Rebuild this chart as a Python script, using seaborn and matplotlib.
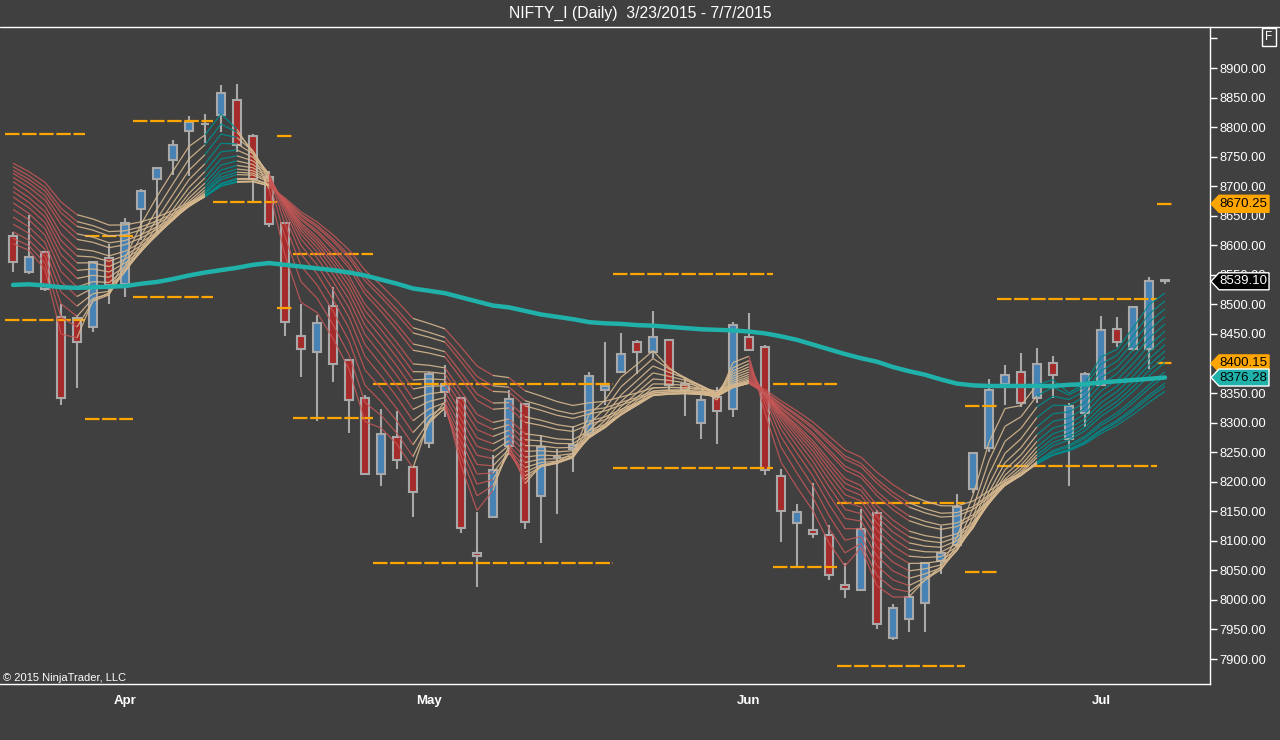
import numpy as np
import pandas as pd
import matplotlib
matplotlib.use("Agg")
import matplotlib.pyplot as plt
import seaborn as sns
from matplotlib.collections import LineCollection
from matplotlib.lines import Line2D
from matplotlib.patches import Polygon

W, H = 1280, 740
BG = "#404040"

# daily bars 3/23/2015 - 7/7/2015
opens = [8616, 8554, 8589, 8479, 8477, 8461, 8579, 8535, 8661, 8713,
         8745, 8793, 8806, 8820, 8846, 8785, 8715, 8638, 8447, 8420,
         8497, 8406, 8342, 8213, 8276, 8225, 8266, 8352, 8342, 8079,
         8141, 8261, 8331, 8175, 8241, 8255, 8279, 8355, 8386, 8437,
         8420, 8440, 8365, 8299, 8343, 8323, 8445, 8428, 8210, 8130,
         8119, 8110, 8025, 8017, 8147, 7936, 7968, 7995, 8066, 8093,
         8187, 8257, 8365, 8386, 8341, 8401, 8272, 8316, 8364, 8459,
         8424, 8424, 8541]
highs = [8622, 8652, 8590, 8500, 8482, 8572, 8603, 8646, 8696, 8733,
         8778, 8818, 8823, 8871, 8873, 8788, 8725, 8640, 8500, 8482,
         8529, 8408, 8347, 8323, 8320, 8226, 8386, 8398, 8343, 8148,
         8245, 8355, 8332, 8279, 8255, 8294, 8386, 8437, 8451, 8440,
         8489, 8441, 8378, 8347, 8360, 8471, 8485, 8432, 8221, 8163,
         8198, 8127, 8062, 8153, 8152, 7993, 8063, 8064, 8125, 8179,
         8249, 8374, 8398, 8417, 8427, 8413, 8333, 8386, 8480, 8478,
         8497, 8547, 8543]
lows = [8555, 8551, 8523, 8330, 8358, 8454, 8500, 8513, 8609, 8620,
        8719, 8717, 8773, 8792, 8758, 8674, 8631, 8447, 8377, 8302,
        8368, 8282, 8212, 8193, 8221, 8141, 8257, 8310, 8113, 8022,
        8140, 8245, 8120, 8097, 8145, 8217, 8276, 8330, 8386, 8383,
        8409, 8355, 8311, 8273, 8263, 8309, 8422, 8212, 8098, 8055,
        8104, 8034, 8003, 8016, 7950, 7932, 7945, 7946, 8044, 8090,
        8181, 8251, 8330, 8326, 8334, 8341, 8192, 8293, 8362, 8428,
        8422, 8390, 8535]
closes = [8571, 8580, 8526, 8341, 8437, 8571, 8532, 8637, 8692, 8730,
          8769, 8809, 8806, 8858, 8770, 8713, 8636, 8471, 8424, 8469,
          8399, 8338, 8213, 8280, 8236, 8183, 8383, 8366, 8121, 8075,
          8219, 8340, 8131, 8258, 8241, 8262, 8379, 8362, 8416, 8420,
          8445, 8364, 8355, 8339, 8320, 8465, 8423, 8220, 8150, 8148,
          8111, 8042, 8018, 8120, 7959, 7986, 8005, 8063, 8079, 8157,
          8248, 8356, 8381, 8334, 8399, 8381, 8328, 8382, 8456, 8437,
          8496, 8539, 8539.1]

# slow moving average (thick teal line)
trend_ma = [8533, 8534, 8532, 8529, 8528, 8529, 8530, 8531, 8535, 8538,
            8543, 8549, 8554, 8558, 8562, 8567, 8570, 8567, 8564, 8561,
            8558, 8554, 8549, 8542, 8535, 8527, 8523, 8519, 8512, 8505,
            8498, 8495, 8489, 8483, 8479, 8475, 8470, 8468, 8467, 8465,
            8464, 8462, 8460, 8458, 8457, 8456, 8454, 8451, 8446, 8440,
            8432, 8424, 8416, 8409, 8403, 8394, 8387, 8381, 8373, 8366,
            8363, 8362, 8362, 8362, 8362, 8362, 8364, 8365, 8368, 8370,
            8372, 8374, 8376.28]

# moving-average ribbon: periods and their values at the first bar
ribbon_periods = [3, 4, 5, 6, 7, 8, 9, 10, 11, 12, 13, 15, 16, 18, 19, 21]
ribbon_seed = [8603, 8612, 8623, 8636, 8648, 8661, 8672, 8682,
               8691, 8699, 8708, 8715, 8722, 8727, 8733, 8739]
# ribbon colour state per bar: r = falling, n = neutral, t = rising
ribbon_state = list("x" + "rrrr" + "nnnnnnnn" + "tt" + "nn" + "rrrrrrrrr"
                    + "nn" + "rrr" + "n" + "r" + "nnnnnnnnnnnnnn"
                    + "rrrrrrrrrr" + "nnnnnnnn" + "tttttttt")

# orange dashed levels (first bar, last bar, price)
level_start = [0, 0, 5, 5, 8, 8, 13, 17, 17, 18, 18, 23, 23, 38, 38,
               48, 48, 52, 52, 60, 60, 62, 62, 72, 72]
level_end = [4, 4, 7, 7, 12, 12, 16, 17, 17, 22, 22, 37, 37, 47, 47,
             51, 51, 59, 59, 61, 61, 71, 71, 72, 72]
level_value = [8788, 8474, 8616, 8306, 8810, 8513, 8673, 8785, 8494,
               8585, 8308, 8365, 8062, 8551, 8223, 8365, 8056, 8164,
               7888, 8328, 8047, 8509, 8227, 8670.25, 8400.15]

month_ticks = [7, 26, 46, 68]
month_labels = ["Apr", "May", "Jun", "Jul"]

tag_values = [8670.25, 8539.10, 8400.15, 8376.28]
tag_fill = ["#FFA500", "#000000", "#FFA500", "#20B2AA"]
tag_text = ["black", "white", "black", "black"]
tag_edge = ["#FFA500", "white", "#FFA500", "white"]

sns.set_theme(style="dark")
plt.rcParams["font.family"] = ["Liberation Sans", "DejaVu Sans"]

n = len(closes)
df = pd.DataFrame({"bar": np.arange(n), "open": opens, "high": highs,
                   "low": lows, "close": closes, "ma": trend_ma})

fig = plt.figure(figsize=(W / 100, H / 100), dpi=100, facecolor=BG)
ax = fig.add_axes([0, 56 / H, 1210 / W, 657 / H], facecolor=BG)

# candles
o = df["open"].to_numpy()
c = df["close"].to_numpy()
face = np.where(c - o > 2, "#4682B4", np.where(o - c > 2, "#A52A2A", "#A9A9A9"))
ax.vlines(df["bar"], df["low"], df["high"], color="#A9A9A9", lw=1.5, zorder=2)
ax.bar(df["bar"], np.abs(c - o), bottom=np.minimum(o, c), width=0.5,
       color=face, edgecolor="#A9A9A9", linewidth=1.5, zorder=3)

# levels
ax.hlines(level_value, np.array(level_start) - 0.5, np.array(level_end) + 0.5,
          colors="#FFA500", linestyles=[(0, (6.5, 1.2))], lw=1.6, zorder=3.5)

# ribbon
ema = np.zeros((len(ribbon_periods), n))
for k, (p, s) in enumerate(zip(ribbon_periods, ribbon_seed)):
    a = 2.0 / (p + 1)
    ema[k, 0] = s
    for t in range(1, n):
        ema[k, t] = ema[k, t - 1] + a * (closes[t] - ema[k, t - 1])

state_color = {"r": (0.78, 0.34, 0.34, 0.85),
               "n": (0.84, 0.72, 0.56, 0.9),
               "t": (0.0, 0.55, 0.55, 0.9)}
segs, cols = [], []
for k in range(len(ribbon_periods)):
    for t in range(1, n):
        segs.append([(t - 1, ema[k, t - 1]), (t, ema[k, t])])
        cols.append(state_color[ribbon_state[t]])
ax.add_collection(LineCollection(segs, colors=cols, linewidths=0.9, zorder=4))

sns.lineplot(data=df, x="bar", y="ma", color="#20B2AA", lw=3.2, ax=ax, zorder=5)

ax.set_xlim(-0.8125, 74.8125)
ax.set_ylim(7857.7, 8969.4)
ax.set_xlabel("")
ax.set_ylabel("")
ax.grid(False)

ax.yaxis.tick_right()
yt = np.arange(7900, 8951, 50)
ax.set_yticks(yt)
ax.set_yticklabels([f"{v:.2f}" if v < 8950 else "" for v in yt])
ax.set_xticks(month_ticks)
ax.set_xticklabels(month_labels, fontweight="bold")
ax.tick_params(axis="y", colors="white", labelcolor="white", length=5,
               width=1, direction="out", labelsize=9.3, pad=2)
ax.tick_params(axis="x", colors="white", labelcolor="white", length=5,
               width=1, direction="out", labelsize=9.5, pad=3)
for side in ["left", "top"]:
    ax.spines[side].set_visible(False)
for side in ["right", "bottom"]:
    ax.spines[side].set_visible(True)
    ax.spines[side].set_color("white")
    ax.spines[side].set_linewidth(1)

# price tags on the axis
for v, fc, tc, ec in zip(tag_values, tag_fill, tag_text, tag_edge):
    yc = ax.transData.transform((0, v))[1]
    x0, x1, h = 1211, 1269, 8.5
    poly = Polygon([(x0, yc), (x0 + 8, yc + h), (x1, yc + h), (x1, yc - h),
                    (x0 + 8, yc - h)], closed=True, transform=None,
                   facecolor=fc, edgecolor=ec, lw=1, zorder=10)
    fig.add_artist(poly)
    fig.text((x0 + 7 + x1) / 2 / W, yc / H, f"{v:.2f}", ha="center",
             va="center", color=tc, fontsize=9.5, zorder=11)

fig.add_artist(Line2D([0, 1], [1 - 27 / H, 1 - 27 / H], color="white", lw=1,
                      transform=fig.transFigure))
fig.text(0.5, 1 - 13 / H, "NIFTY_I (Daily)  3/23/2015 - 7/7/2015",
         ha="center", va="center", color="white", fontsize=11.3)
fig.text(1269 / W, 1 - 37 / H, "F", ha="center", va="center", color="white",
         fontsize=8.5, bbox=dict(boxstyle="square,pad=0.25", fc=BG,
                                 ec="white", lw=1))
fig.text(3 / W, 1 - 678 / H, "\u00a9 2015 NinjaTrader, LLC", ha="left",
         va="center", color="white", fontsize=8)

fig.savefig("out.png", dpi=100, facecolor=BG)
